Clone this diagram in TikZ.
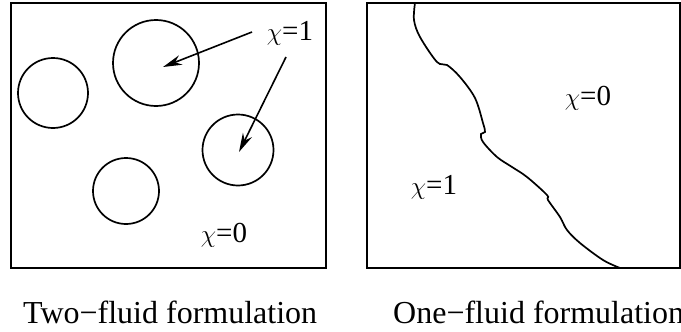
\documentclass[tikz,border=0pt]{standalone}
\usepackage{fontspec}
\setmainfont{Liberation Serif}
\usetikzlibrary{arrows.meta}
\begin{document}
\begin{tikzpicture}[x=1pt,y=-1pt,
  frame/.style={draw=black,line width=2.2pt},
  blob/.style={draw=black,line width=1.7pt,circle,inner sep=0pt},
  lbl/.style={font=\fontsize{29}{33}\selectfont,inner sep=0pt},
  captext/.style={font=\fontsize{32}{36}\selectfont,inner sep=0pt,anchor=base west},
  pointer/.style={line width=1.6pt,-{Stealth[length=19pt,width=10pt]}}]
\useasboundingbox (0,0) rectangle (681,332);
% left box
\draw[frame] (11,3) rectangle (326,268);
\node[blob,minimum size=70pt] (c1) at (53,93) {};
\node[blob,minimum size=86pt] (c2) at (156,63) {};
\node[blob,minimum size=71pt] (c3) at (238,150) {};
\node[blob,minimum size=66pt] (c4) at (126,191) {};
\node[lbl,anchor=base] (one) at (290,41) {$\chi$=1};
\node[lbl,anchor=base] (zeroL) at (224,242) {$\chi$=0};
\coordinate (s1) at (252,32);
\coordinate (s2) at (286,57);
\coordinate (t1) at (163,67);
\coordinate (t2) at (239,152);
\draw[pointer] (s1) -- (t1);
\draw[pointer] (s2) -- (t2);
% right box
\draw[frame] (367,3) rectangle (680,268);
\draw[line width=1.7pt] plot[smooth,tension=0.55] coordinates{
 (415,3) (414,20) (420,37) (437,62) (447,65) (460,77) (475,98) (483,123)
 (485,132) (481,134) (483,142) (497,157) (512,167) (527,177) (547,195)
 (548,200) (560,217) (567,230) (580,243) (603,260) (620,268)};
\node[lbl,anchor=base] (zeroR) at (588,105) {$\chi$=0};
\node[lbl,anchor=base] (oneR) at (434,194) {$\chi$=1};
% captions
\node[captext] (capL) at (23,323) {Two−fluid formulation};
\node[captext] (capR) at (393,323) {One−fluid formulation};
\end{tikzpicture}
\end{document}
